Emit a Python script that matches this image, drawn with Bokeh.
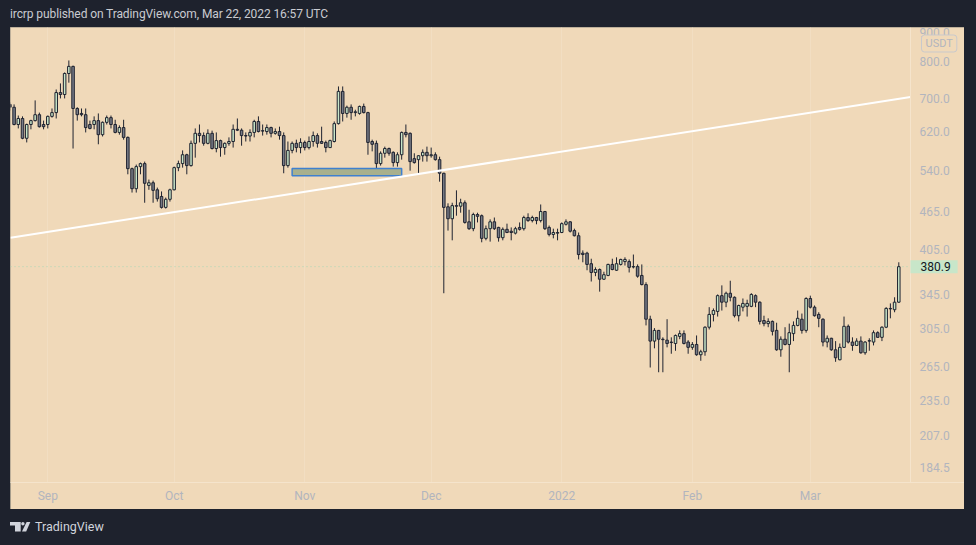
import numpy as np
import pandas as pd
from bokeh.plotting import figure
from bokeh.models import (Range1d, FixedTicker, PrintfTickFormatter, Span, Label,
                          Div, ColumnDataSource)
from bokeh.layouts import column
from bokeh.embed import file_html
from bokeh.resources import INLINE

# ---------------- data (BCH/USDT daily) ----------------
first_day = "2021-08-23"
last_day = "2022-03-22"

opens = [
    685, 678, 637, 651, 606, 637, 646, 660, 637,
    637, 656, 665, 715, 710, 766, 786, 675, 663, 660, 637, 637, 646, 614, 642, 653, 637, 619, 630, 608,
    543, 505, 547, 553, 511, 516, 503, 491, 472, 486,
    503, 545, 553, 571, 549, 595, 617, 612, 595, 617, 584, 601, 586, 595, 599, 626, 624, 612, 611, 619,
    644, 622, 621, 630, 617, 621, 612, 549, 580, 595, 586,
    597, 586, 599, 612, 599, 597, 586, 599, 639, 718, 663, 678, 665, 663, 680, 665, 599, 595, 553, 574,
    584, 576, 555, 571, 619, 617, 563, 561, 569, 576,
    569, 571, 561, 534, 473, 453, 475, 474, 480, 448, 437, 460, 458, 422, 437, 448, 439, 423, 436, 433,
    430, 439, 437, 455, 450, 455, 450, 465, 439, 428, 431,
    431, 444, 448, 434, 426, 400, 400, 385, 373, 377, 364, 369, 384, 376, 384, 388, 388, 381, 381, 369,
    357, 315, 291, 302.5, 293, 292, 290, 288.5, 296, 299, 290,
    284.5, 287.5, 277, 280, 306, 320.5, 324, 343, 335, 346, 341, 319, 329, 330, 330, 343, 335, 313.5,
    310, 312.5, 302.5, 282, 293, 287.5, 299, 308, 315, 302.5,
    339.5, 329, 320.5, 315, 290, 294, 282, 272, 284.5, 307, 290, 286.5, 291, 279, 291, 290, 300, 295,
    306, 327.5, 326, 335,
]
highs = [
    690, 685, 658, 656, 639, 648, 695, 665, 646,
    658, 675, 723, 739, 769, 803, 788, 678, 675, 675, 646, 656, 663, 644, 658, 658, 648, 635, 648, 610,
    545, 551, 555, 557, 522, 520, 507, 500, 489, 505,
    547, 559, 580, 573, 601, 628, 637, 619, 626, 623, 619, 603, 597, 608, 637, 651, 628, 619, 626, 648,
    656, 637, 637, 632, 628, 632, 619, 599, 599, 603, 606,
    601, 610, 621, 617, 632, 601, 603, 644, 731, 731, 682, 685, 672, 682, 687, 667, 603, 601, 578, 588,
    586, 578, 576, 621, 637, 619, 574, 570, 582, 588,
    586, 576, 567, 535, 479, 480, 502, 487, 484, 468, 463, 463, 460, 442, 452, 455, 440, 439, 445, 439,
    440, 447, 458, 462, 458, 456, 477, 466, 442, 437, 437,
    447, 452, 449, 437, 431, 404, 402, 392, 380, 378.5, 374, 385, 392, 394, 392, 394, 391, 398, 384, 384,
    360, 319, 305, 303, 295, 315, 295, 298, 302.5, 302.5, 292,
    290, 297, 282, 307, 329, 327.5, 344.5, 356, 348, 362, 342, 332, 339.5, 338, 346, 344.5, 336, 319,
    316, 313.5, 311, 296, 306, 310, 312.5, 325, 321.5, 341,
    343, 331, 323, 316, 297, 294.5, 291, 288.5, 318, 309, 295, 294, 296, 291, 294, 302.5, 301.5, 307,
    329, 333.5, 341, 387,
]
lows = [
    670, 635, 628, 604, 597, 626, 644, 630, 626,
    628, 653, 651, 700, 700, 741, 584, 646, 656, 619, 626, 626, 593, 610, 637, 628, 617, 614, 603, 532,
    498, 498, 532, 480, 503, 480, 482, 470, 470, 482,
    502, 538, 545, 532, 547, 565, 597, 590, 593, 582, 576, 567, 571, 590, 586, 622, 590, 599, 599, 608,
    619, 612, 614, 608, 614, 603, 534, 545, 574, 576, 574,
    580, 582, 588, 586, 594, 576, 585, 597, 637, 644, 653, 648, 656, 660, 663, 571, 578, 543, 549, 565,
    569, 547, 547, 561, 608, 539, 553, 532, 557, 557,
    565, 559, 518, 346, 434, 419, 458, 463, 445, 435, 433, 447, 416, 419, 417, 435, 417, 419, 430, 419,
    428, 434, 434, 448, 447, 444, 447, 435, 425, 422, 419,
    430, 442, 431, 425, 391, 387, 376, 361, 368, 348, 363, 368, 376, 375, 382.5, 382.5, 373, 378.5, 366,
    356, 308, 264.5, 283.5, 260, 260, 284.5, 278, 281, 293, 287.5, 278,
    282, 276, 271, 276, 303.5, 312.5, 318, 325, 329, 336, 317, 312.5, 324, 318, 329, 329, 309, 307,
    306, 297, 281, 275, 286.5, 260, 291, 307, 299, 300,
    327.5, 318, 306, 285.5, 284.5, 281, 270, 271.5, 284, 288.5, 281, 286, 278, 277, 281, 286.5, 294.5,
    291, 305, 316, 323, 334,
]
closes = [
    678, 637, 651, 606, 637, 646, 660, 632, 632,
    656, 665, 715, 710, 766, 786, 675, 660, 660, 630, 628, 646, 614, 642, 653, 637, 619, 630, 608, 543,
    505, 547, 553, 515, 516, 502, 487, 472, 486, 503,
    545, 553, 571, 549, 595, 617, 612, 595, 617, 584, 601, 586, 595, 599, 626, 624, 612, 611, 619, 644,
    621, 623, 630, 617, 621, 612, 549, 580, 595, 586, 597,
    586, 599, 612, 595, 595, 586, 601, 639, 718, 663, 678, 665, 667, 680, 665, 597, 593, 553, 574, 584,
    574, 555, 571, 619, 614, 557, 555, 569, 576, 569,
    571, 561, 534, 472, 453, 475, 474, 480, 447, 437, 460, 457, 422, 437, 448, 437, 423, 436, 431, 431,
    437, 436, 455, 450, 455, 450, 465, 437, 428, 431, 430,
    445, 448, 433, 426, 398, 398, 384, 373, 377, 364, 370, 384, 377, 385, 391, 391, 380, 380.5, 368, 357,
    315, 291, 302.5, 293, 292.5, 288.5, 289.5, 297, 299, 288.5, 284.5,
    287.5, 277, 280, 306, 320.5, 325, 343, 335, 346, 341, 319, 331, 333.5, 333.5, 344.5, 335, 312.5, 310,
    312.5, 301.5, 282, 293, 287.5, 300, 308, 316, 302.5, 339.5,
    329, 319, 316, 290, 294, 282, 274, 284.5, 307, 290, 286.5, 291, 279, 290, 291.5, 300, 295, 306,
    327.5, 327, 335, 380.9,
]

month_ticks = ["2021-09-01", "2021-10-01", "2021-11-01", "2021-12-01",
               "2022-01-01", "2022-02-01", "2022-03-01"]
month_labels = ["Sep", "Oct", "Nov", "Dec", "2022", "Feb", "Mar"]
price_ticks = [184.5, 207.0, 235.0, 265.0, 305.0, 345.0, 405.0, 465.0,
               540.0, 620.0, 700.0, 800.0, 900.0]
last_price = 380.9
currency = "USDT"
currency_level = 853.8

# drawings on the chart: trend line (time, price) and a zone box
trend_times = ["2021-08-23 03:36", "2022-03-24 18:40"]
trend_prices = [423.0, 703.5]
zone_times = ["2021-10-29", "2021-11-24"]
zone_prices = [529.0, 543.5]

title_text = "ircrp published on TradingView.com, Mar 22, 2022 16:57 UTC"

# ---------------- styling ----------------
DARK = "#1e222d"
BG = "#f0d9b9"
GRID = "#f2dec2"
SEP = "#f5e4cc"
BULL = "#c8e6c9"
BEAR = "#787b86"
EDGE = "#1f2330"
AXIS_TXT = "#b2b5be"
FONT = "Roboto"
DAY_MS = 86400000

CHART_W = 900      # candle area width (px)
SCALE_W = 54       # price-scale strip width (px)
CHART_H = 455

dates = pd.date_range(first_day, last_day, freq="D")
assert len(dates) == len(opens) == len(highs) == len(lows) == len(closes)

o = np.array(opens, dtype=float)
h = np.array(highs, dtype=float)
l = np.array(lows, dtype=float)
c = np.array(closes, dtype=float)
bull = c >= o

src = ColumnDataSource(dict(
    x=dates, o=o, h=h, l=l, c=c,
    top=np.maximum(o, c), bottom=np.minimum(o, c),
    fill=[BULL if b else BEAR for b in bull],
))

x_start = pd.Timestamp(trend_times[0])
x_end = pd.Timestamp(trend_times[1])
# the frame also spans the price-scale strip so that the price badges can be drawn there
px_per_day = CHART_W / ((x_end - x_start) / pd.Timedelta(days=1))
x_frame_end = x_end + pd.Timedelta(days=SCALE_W / px_per_day)

p = figure(
    x_axis_type="datetime", y_axis_type="log", y_axis_location="right",
    x_range=Range1d(x_start, x_frame_end),
    y_range=Range1d(174.5, 904.7),
    frame_width=CHART_W + SCALE_W, frame_height=CHART_H,
    min_border_left=0, min_border_top=0, min_border_right=0, min_border_bottom=27,
    toolbar_location=None, output_backend="svg",
    background_fill_color=BG, border_fill_color=BG, outline_line_color=None,
    margin=(0, 0, 0, 2),
    styles={"outline": "1px solid #8d877d", "outline-offset": "-1px"},
)

# axes
tick_ms = [pd.Timestamp(t).value // 10**6 for t in month_ticks]
p.xaxis.ticker = FixedTicker(ticks=tick_ms)
p.xaxis.major_label_overrides = {ms: lab for ms, lab in zip(tick_ms, month_labels)}
p.yaxis.ticker = FixedTicker(ticks=price_ticks)
p.yaxis.formatter = PrintfTickFormatter(format="%.1f")
for ax in (p.xaxis, p.yaxis):
    ax.major_tick_line_color = None
    ax.minor_tick_line_color = None
    ax.major_tick_out = 0
    ax.major_tick_in = 0
    ax.minor_tick_out = 0
    ax.minor_tick_in = 0
    ax.major_label_text_color = AXIS_TXT
    ax.major_label_text_font = FONT
    ax.major_label_text_font_size = "12px"
p.xaxis.axis_line_color = SEP
p.yaxis.axis_line_color = None
p.yaxis.major_label_standoff = -45
p.xaxis.major_label_standoff = 6

p.xgrid.ticker = FixedTicker(ticks=tick_ms)
p.xgrid.grid_line_color = GRID
p.ygrid.grid_line_color = None

# separator between candles and price scale
p.add_layout(Span(location=x_end, dimension="height", line_color=SEP, line_width=1))

# last price dotted line
p.segment(x0=[x_start], y0=[last_price], x1=[x_end], y1=[last_price],
          line_color="#a9d8b4", line_dash="1 3", line_width=1)

# candles
p.segment(x0="x", y0="l", x1="x", y1="h", source=src, line_color=EDGE, line_width=1)
p.vbar(x="x", width=0.6 * DAY_MS, top="top", bottom="bottom", source=src,
       fill_color="fill", line_color=EDGE, line_width=1)

# zone box
p.quad(left=[pd.Timestamp(zone_times[0])], right=[pd.Timestamp(zone_times[1])],
       bottom=[zone_prices[0]], top=[zone_prices[1]],
       fill_color="#a8b08d", line_color="#3f80cf", line_width=1.5)

# trend line
p.segment(x0=[x_start], y0=[trend_prices[0]], x1=[x_end], y1=[trend_prices[1]],
          line_color="white", line_width=2)

# price-scale badges (padding given as left, right, top, bottom)
p.add_layout(Label(x=x_end, y=last_price,
                   text=f"{last_price:.1f}", text_baseline="middle", text_align="left",
                   text_font=FONT, text_font_size="12px", text_color="#131722",
                   background_fill_color="#c8e6c9", padding=(10, 7, 2, 2)))
p.add_layout(Label(x=x_end, y=currency_level, x_offset=11,
                   text=currency, text_baseline="middle", text_align="left",
                   text_font=FONT, text_font_size="11px", text_color=AXIS_TXT,
                   background_fill_color=BG, border_line_color="#c9c9cc",
                   border_line_width=1, border_radius=3, padding=(4, 4, 2, 2)))

title_div = Div(text=title_text, width=960, height=19, margin=(0, 0, 0, 0),
                styles={"color": "#c9cbd1", "font-family": FONT, "font-size": "12px",
                        "line-height": "13px", "padding-left": "2px",
                        "letter-spacing": "-0.1px",
                        "white-space": "nowrap", "background": DARK})

logo_svg = ('<svg width="21" height="10" viewBox="0 0 21 10" style="margin-right:4px">'
            '<path d="M0 0H10.7V9.4H5V3.4H0Z" fill="#d1d4dc"/>'
            '<circle cx="12.9" cy="1.7" r="1.7" fill="#d1d4dc"/>'
            '<path d="M12 9.4H16.2L20.3 0H16.6Z" fill="#d1d4dc"/></svg>')
footer_div = Div(text=('<div style="display:flex;align-items:center;height:36px;">'
                       + logo_svg +
                       '<span style="font-family:Roboto;font-size:12.5px;color:#d1d4dc">'
                       'TradingView</span></div>'),
                 width=960, height=36, margin=(0, 0, 0, 0),
                 styles={"padding-left": "2px", "background": DARK})

layout = column(title_div, p, footer_div, spacing=0)

html = file_html(layout, INLINE, title="BCHUSDT chart")
html = html.replace("</head>", "<style>html,body{background:%s !important;}"
                    "body{margin:8px !important;height:auto !important;}</style></head>" % DARK, 1)
open("out.html", "w").write(html)
